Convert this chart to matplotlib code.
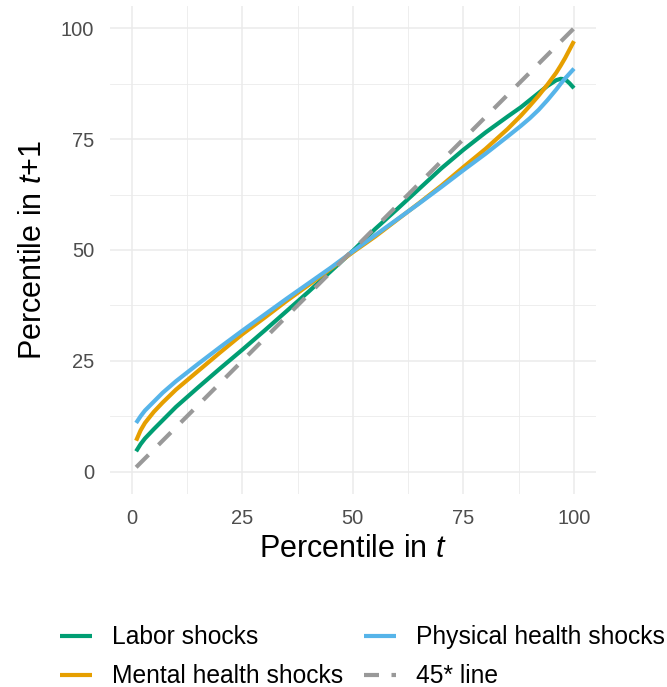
import matplotlib
matplotlib.use('Agg')
import matplotlib.pyplot as plt
from matplotlib.lines import Line2D

plt.rcParams['font.family'] = ['Liberation Sans', 'DejaVu Sans']
plt.rcParams['mathtext.fontset'] = 'custom'
plt.rcParams['mathtext.rm'] = 'Liberation Sans'
plt.rcParams['mathtext.it'] = 'Liberation Sans:italic'

# percentile in t
pct = [1, 2, 3, 5, 7, 10, 15, 20, 25, 30, 35, 40, 45, 50, 55, 60, 65, 70,
       75, 80, 85, 88, 90, 92, 94, 96, 97, 98, 99, 100]

# percentile in t+1
labor = [4.6, 6.2, 7.5, 9.6, 11.6, 14.6, 19.0, 23.3, 27.5, 31.8, 36.2, 40.6,
         45.2, 49.8, 54.7, 59.2, 63.8, 68.4, 72.6, 76.5, 80.1, 82.2, 83.8,
         85.4, 87.0, 88.3, 88.6, 88.5, 87.6, 86.5]
mental = [7.0, 9.3, 11.0, 13.5, 15.6, 18.5, 22.7, 26.9, 31.0, 34.7, 38.5,
          42.1, 45.8, 49.5, 53.0, 56.8, 60.6, 64.5, 68.7, 72.8, 77.3, 80.3,
          82.5, 84.8, 87.3, 90.0, 91.6, 93.3, 95.2, 97.1]
physical = [11.0, 12.5, 13.8, 15.8, 17.8, 20.4, 24.3, 28.1, 31.8, 35.4, 39.0,
            42.5, 46.0, 49.7, 53.3, 56.9, 60.5, 64.2, 68.0, 71.7, 75.6, 78.0,
            79.7, 81.6, 83.8, 86.2, 87.5, 88.7, 89.8, 90.9]
line45_x = [1, 100]
line45_y = [1, 100]

ticks = [0, 25, 50, 75, 100]
minor_ticks = [12.5, 37.5, 62.5, 87.5]

c_labor = '#009E73'
c_mental = '#E69F00'
c_phys = '#56B4E9'
c_45 = '#999999'

fig = plt.figure(figsize=(6.67, 6.87), dpi=100)
ax = fig.add_axes([0.1643, 0.2811, 0.7294, 0.710])

lw = 3.0
ax.plot(pct, labor, color=c_labor, lw=lw, solid_capstyle='butt')
ax.plot(pct, mental, color=c_mental, lw=lw, solid_capstyle='butt')
ax.plot(pct, physical, color=c_phys, lw=lw, solid_capstyle='butt')
ax.plot(line45_x, line45_y, color=c_45, lw=lw, linestyle=(0, (4.2, 3.4)))

ax.set_xlim(-5, 105)
ax.set_ylim(-5, 105)
ax.set_xticks(ticks)
ax.set_yticks(ticks)
ax.set_xticks(minor_ticks, minor=True)
ax.set_yticks(minor_ticks, minor=True)
ax.grid(True, which='major', color='#EBEBEB', lw=1.1)
ax.grid(True, which='minor', color='#EBEBEB', lw=0.6)
ax.set_axisbelow(True)
for s in ax.spines.values():
    s.set_visible(False)
ax.tick_params(which='both', length=0)
ax.tick_params(axis='both', labelsize=14.5, labelcolor='#4D4D4D', pad=11)

ax.set_xlabel('Percentile in $\\mathit{t}$', fontsize=22, labelpad=4)
ax.set_ylabel('Percentile in $\\mathit{t{+}1}$', fontsize=22, labelpad=9)

handles = [
    Line2D([], [], color=c_labor, lw=lw, solid_capstyle='butt'),
    Line2D([], [], color=c_mental, lw=lw, solid_capstyle='butt'),
    Line2D([], [], color=c_phys, lw=lw, solid_capstyle='butt'),
    Line2D([], [], color=c_45, lw=lw, dash_capstyle='butt',
           linestyle=(0, (3.6, 3.0))),
]
labels = ['Labor shocks', 'Mental health shocks', 'Physical health shocks',
          '45* line']
fig.legend(handles, labels, ncol=2, loc='upper left',
           bbox_to_anchor=(0.075, 0.104), frameon=False, fontsize=17.7,
           handlelength=1.3, handletextpad=0.81, columnspacing=0.86,
           labelspacing=0.61, borderaxespad=0)

fig.savefig('out.png', dpi=100)
